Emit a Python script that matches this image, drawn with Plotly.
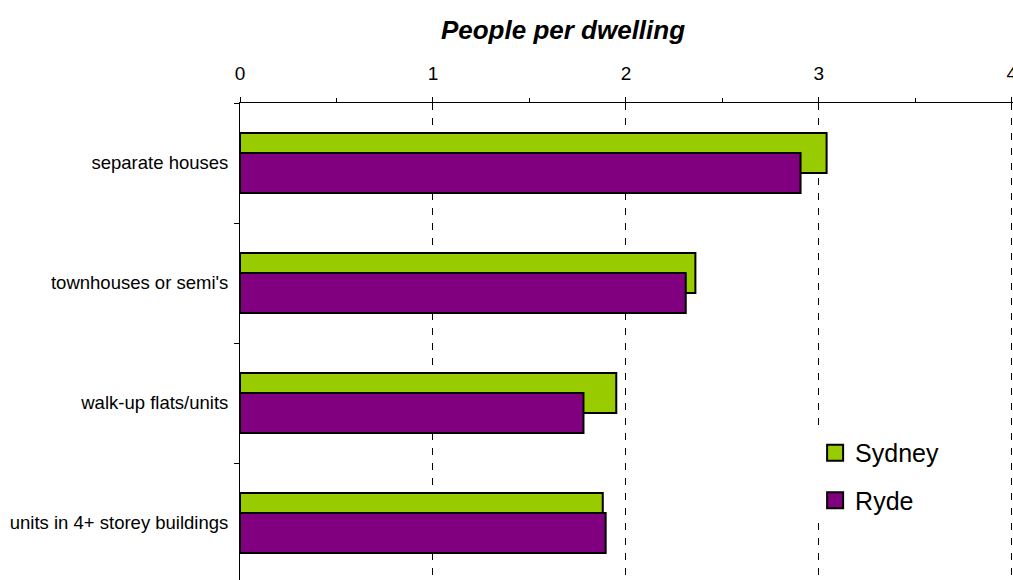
import plotly.graph_objects as go

categories = ["separate houses", "townhouses or semi's", "walk-up flats/units", "units in 4+ storey buildings"]
sydney = [3.04, 2.36, 1.95, 1.88]
ryde = [2.905, 2.31, 1.78, 1.895]

GREEN = "#99CC00"
PURPLE = "#800080"
FONT = "Liberation Sans, Arial, sans-serif"

W, H = 1013, 580

fig = go.Figure()
fig.add_trace(go.Bar(y=categories, x=sydney, orientation="h", name="Sydney",
                     marker=dict(color=GREEN, line=dict(color="black", width=2)),
                     width=1/3, offset=-0.25, showlegend=False))
fig.add_trace(go.Bar(y=categories, x=ryde, orientation="h", name="Ryde",
                     marker=dict(color=PURPLE, line=dict(color="black", width=2)),
                     width=1/3, offset=-1/12, showlegend=False))
# legend proxies (larger square swatches)
fig.add_trace(go.Scatter(x=[None], y=[None], mode="markers", name="Sydney", legendgroup="a",
                         marker=dict(symbol="square", size=16, color=GREEN, line=dict(color="black", width=2))))
fig.add_trace(go.Scatter(x=[None], y=[None], mode="markers", name="Ryde", legendgroup="b",
                         marker=dict(symbol="square", size=16, color=PURPLE, line=dict(color="black", width=2))))

fig.update_layout(
    width=W, height=H,
    margin=dict(l=240, r=0, t=103, b=0, autoexpand=False),
    paper_bgcolor="white", plot_bgcolor="white",
    barmode="overlay",
    font=dict(family=FONT, color="black"),
    title=dict(text="<b><i>People per dwelling</i></b>", font=dict(size=26, family=FONT, color="black"),
               x=563/W, xref="container", xanchor="center",
               y=1 - 30/H, yref="container", yanchor="middle"),
    xaxis=dict(side="top", range=[0, 4.006], dtick=1, tick0=0, automargin=False,
               showline=True, linecolor="black", linewidth=1,
               ticks="outside", ticklen=5, tickcolor="black",
               minor=dict(dtick=0.5, ticks="outside", ticklen=4, tickcolor="black", showgrid=False),
               showgrid=True, gridcolor="black", gridwidth=1, griddash="7px,8px",
               zeroline=False, tickfont=dict(size=19, family=FONT, color="black"),
               ticklabelstandoff=9, ticklabeloverflow="allow"),
    yaxis=dict(range=[3.475, -0.5], showline=True, linecolor="black", linewidth=1, automargin=False,
               ticks="outside", ticklen=5, tickcolor="black", tickson="boundaries",
               showgrid=False, zeroline=False, ticklabelstandoff=7,
               tickfont=dict(size=18.5, family=FONT, color="black")),
    legend=dict(x=0.744, xanchor="left", y=0.3145, yanchor="top", xref="paper", yref="paper",
                font=dict(size=25, family=FONT, color="black"),
                bgcolor="white", tracegroupgap=12, traceorder="grouped"),
)

fig.write_html("out.html", config={"displayModeBar": False},
               post_script="document.body.style.margin='0px';document.body.style.overflow='hidden';")
